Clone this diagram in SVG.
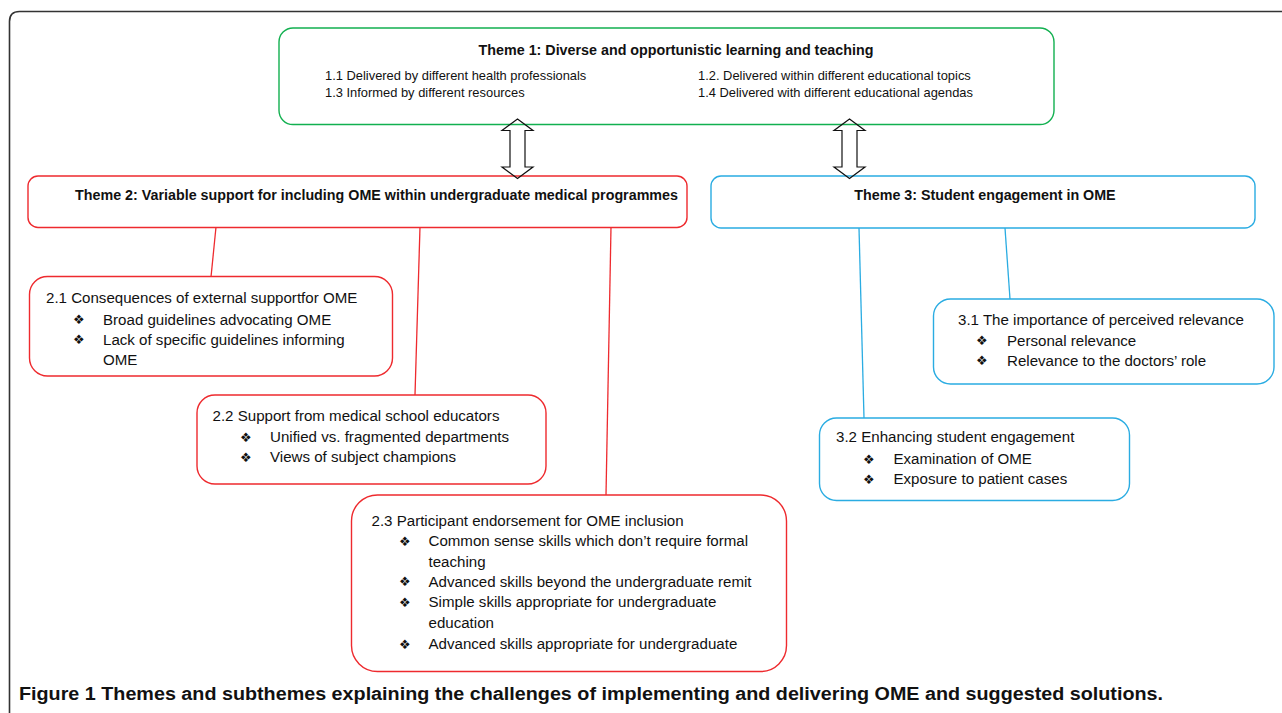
<svg xmlns="http://www.w3.org/2000/svg" width="1282" height="713" viewBox="0 0 1282 713">
<style>
text{font-family:"Liberation Sans",Arial,sans-serif;fill:#111}
.t{font-size:14.3px;font-weight:bold}
.s1{font-size:12.9px}
.st{font-size:15.1px}
.b{font-family:"DejaVu Sans",sans-serif;font-size:13px}
.g{fill:#fff;stroke:#12b050;stroke-width:1.4}
.r{fill:#fff;stroke:#ee2a2e;stroke-width:1.4}
.u{fill:#fff;stroke:#2aace2;stroke-width:1.4}
.rl{stroke:#ee2a2e;stroke-width:1.3;fill:none}
.ul{stroke:#2aace2;stroke-width:1.3;fill:none}
.ar{fill:none;stroke:#111;stroke-width:1.2}
</style>
<rect width="1282" height="713" fill="#fff"/>
<path d="M9.5,713 V21.5 Q9.5,11.5 19.5,11.5 H1282" fill="none" stroke="#333" stroke-width="1.6"/>

<g id="connectors">
<line class="rl" x1="216" y1="227" x2="211" y2="277"/>
<line class="rl" x1="420" y1="227" x2="415" y2="395"/>
<line class="rl" x1="611" y1="227" x2="606" y2="495"/>
<line class="ul" x1="859" y1="228" x2="864" y2="418"/>
<line class="ul" x1="1005" y1="228" x2="1010" y2="299"/>
</g>

<g id="theme1">
<rect class="g" x="279" y="28" width="775" height="96.5" rx="14"/>
<text class="t" x="676" y="55" text-anchor="middle">Theme 1: Diverse and opportunistic learning and teaching</text>
<text class="s1" x="325" y="80">1.1 Delivered by different health professionals</text>
<text class="s1" x="325" y="97">1.3 Informed by different resources</text>
<text class="s1" x="698" y="80">1.2. Delivered within different educational topics</text>
<text class="s1" x="698" y="97">1.4 Delivered with different educational agendas</text>
</g>

<g id="theme2">
<rect class="r" x="28" y="176" width="659" height="51.5" rx="10"/>
<text class="t" x="75" y="199.5">Theme 2: Variable support for including OME within undergraduate medical programmes</text>
</g>

<g id="theme3">
<rect class="u" x="711" y="176" width="544" height="52" rx="10"/>
<text class="t" x="985" y="199.5" text-anchor="middle">Theme 3: Student engagement in OME</text>
</g>

<g id="arrows">
<path class="ar" d="M517.5,119 L533,130.5 L525,130.5 L525,167 L533,167 L517.5,178.5 L502,167 L510,167 L510,130.5 L502,130.5 Z"/>
<path class="ar" d="M849.5,119 L865,130.5 L857,130.5 L857,167 L865,167 L849.5,178.5 L834,167 L842,167 L842,130.5 L834,130.5 Z"/>
</g>

<g id="sub21">
<rect class="r" x="29.5" y="276.5" width="363" height="99.5" rx="18"/>
<text class="st" x="46" y="303">2.1 Consequences of external supportfor OME</text>
<text class="b" x="73" y="324">❖</text><text class="st" x="103" y="324.5">Broad guidelines advocating OME</text>
<text class="b" x="73" y="344">❖</text><text class="st" x="103" y="344.5">Lack of specific guidelines informing</text>
<text class="st" x="103" y="365">OME</text>
</g>

<g id="sub22">
<rect class="r" x="197" y="395" width="349" height="89" rx="18"/>
<text class="st" x="212.5" y="420.5">2.2 Support from medical school educators</text>
<text class="b" x="240" y="441.5">❖</text><text class="st" x="270" y="442">Unified vs. fragmented departments</text>
<text class="b" x="240" y="461.5">❖</text><text class="st" x="270" y="462">Views of subject champions</text>
</g>

<g id="sub23">
<rect class="r" x="351.5" y="495" width="435" height="176.5" rx="26"/>
<text class="st" x="371.5" y="526">2.3 Participant endorsement for OME inclusion</text>
<text class="b" x="399" y="545.5">❖</text><text class="st" x="428.5" y="546">Common sense skills which don’t require formal</text>
<text class="st" x="428.5" y="566.5">teaching</text>
<text class="b" x="399" y="586">❖</text><text class="st" x="428.5" y="586.5">Advanced skills beyond the undergraduate remit</text>
<text class="b" x="399" y="606.5">❖</text><text class="st" x="428.5" y="607">Simple skills appropriate for undergraduate</text>
<text class="st" x="428.5" y="628">education</text>
<text class="b" x="399" y="648.5">❖</text><text class="st" x="428.5" y="649">Advanced skills appropriate for undergraduate</text>
</g>

<g id="sub31">
<rect class="u" x="933.5" y="299" width="340.5" height="85" rx="17"/>
<text class="st" x="958" y="325">3.1 The importance of perceived relevance</text>
<text class="b" x="976" y="345">❖</text><text class="st" x="1007" y="345.5">Personal relevance</text>
<text class="b" x="976" y="365">❖</text><text class="st" x="1007" y="365.5">Relevance to the doctors’ role</text>
</g>

<g id="sub32">
<rect class="u" x="819.5" y="418" width="310" height="82.5" rx="17"/>
<text class="st" x="836" y="442">3.2 Enhancing student engagement</text>
<text class="b" x="863" y="463.5">❖</text><text class="st" x="893.5" y="464">Examination of OME</text>
<text class="b" x="863" y="483.5">❖</text><text class="st" x="893.5" y="484">Exposure to patient cases</text>
</g>

<text x="19" y="700" font-size="18" font-weight="bold" fill="#231f20" textLength="1144" lengthAdjust="spacingAndGlyphs">Figure 1 Themes and subthemes explaining the challenges of implementing and delivering OME and suggested solutions.</text>
</svg>
